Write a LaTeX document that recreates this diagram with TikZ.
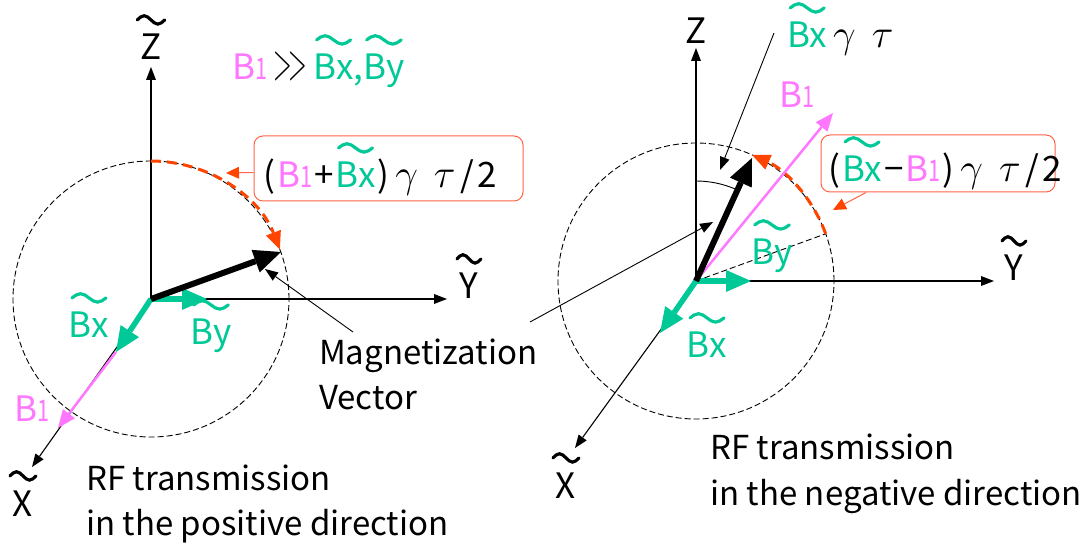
\RequirePackage{fix-cm}
\documentclass[tikz,border=0pt]{standalone}
\usepackage{fontspec}
\setmainfont{Noto Sans CJK JP}
\usepackage{graphicx}
\usetikzlibrary{arrows.meta}
\definecolor{pinkc}{RGB}{255,119,255}
\definecolor{greenc}{RGB}{0,200,150}
\definecolor{orangec}{RGB}{255,68,0}
\definecolor{boxc}{RGB}{255,100,70}
\newlength\tlw
\newlength\tlv
\newcommand\tld[2][0.85]{\settowidth\tlw{#2}\setlength\tlv{#1\tlw}\leavevmode\rlap{\hbox to\tlw{\hss\raisebox{0.98em}{\tikz[x=1pt,y=1pt,line width=0.09em,line cap=round,solid]\draw (0,0) sin (0.25\tlv,0.12em) cos (0.5\tlv,0) sin (0.75\tlv,-0.12em) cos (\tlv,0);}\hss}}#2}
\newcommand\one{\scalebox{0.62}[0.85]{1}}
\newcommand\gam{\scalebox{1.15}{$\gamma$}}
\newcommand\tu{\scalebox{1.15}{$\tau$}}
\newcommand\gtr{\scalebox{0.7}[1.5]{$>$}}
\newcommand\sk{\hspace{2pt}}
\begin{document}
\begin{tikzpicture}[x=1pt,y=1pt,
  font=\fontsize{33}{38}\selectfont,
  lbl/.style={anchor=base, inner sep=0pt, font=\fontsize{35}{40}\selectfont},
  lblw/.style={anchor=base west, inner sep=0pt, font=\fontsize{35}{40}\selectfont},
  txt/.style={anchor=base west, inner sep=0pt},
  axis/.style={line width=1.1pt, -{Triangle[length=13pt,width=10pt,line width=0pt]}},
  thinarrow/.style={line width=0.9pt, -{Triangle[length=13pt,width=10pt,line width=0pt]}},
  oarrow/.style={draw=boxc, line width=1pt, -{Triangle[length=13pt,width=12pt,line width=0pt,fill=orangec]}},
  magvec/.style={line width=6pt, -{Triangle[length=27pt,width=24pt,line width=0pt]}},
  gvec/.style={draw=greenc, line width=5.5pt, -{Triangle[length=25pt,width=22pt,line width=0pt,fill=greenc]}},
  pvec/.style={draw=pinkc, line width=2.5pt, -{Triangle[length=18pt,width=15pt,line width=0pt,fill=pinkc]}},
  circ/.style={line width=0.9pt, dash pattern=on 6pt off 3pt},
  orarc/.style={draw=orangec, line width=3pt, dash pattern=on 10pt off 6pt, -{Triangle[length=18pt,width=16pt,line width=0pt,fill=orangec]}},
  obox/.style={draw=boxc, line width=1pt, rounded corners=9pt, inner sep=0pt}
]
\useasboundingbox (0,0) rectangle (1088,-545);

% ===== Left diagram =====
\coordinate (oL) at (151,-299);
\coordinate (zLt) at (151,-67);
\coordinate (yLt) at (447,-299);
\coordinate (xLt) at (32,-467);
\coordinate (mL) at (281,-252);
\coordinate (bxL) at (116,-352);
\coordinate (byL) at (207,-299);
\coordinate (b1L) at (58,-428);

\draw[circ] (oL) circle[radius=138];
\draw[axis] (oL) -- (zLt);
\draw[axis] (oL) -- (yLt);
\draw[axis] (oL) -- (xLt);
\draw[orarc] ([shift={(90:138)}]oL) arc[start angle=90,end angle=21,radius=138];
\draw[pvec] (bxL) -- (b1L);
\draw[gvec] (oL) -- (bxL);
\draw[gvec] (oL) -- (byL);
\draw[magvec] (oL) -- (mL);

\node[lbl] (zL) at (151,-60) {\tld[1.3]{Z}};
\node[lbl] (yL) at (469,-299) {\tld[1.3]{Y}};
\node[lbl] (xL) at (23,-516) {\tld[1.3]{X}};
\node[lbl, text=greenc] (lbxL) at (89,-338) {\tld{Bx}};
\node[lbl, text=greenc] (lbyL) at (211,-345) {\tld{By}};
\node[lbl, text=pinkc] (lb1L) at (32,-422) {B\one};
\node[lblw] (cond) at (232,-80) {\textcolor{pinkc}{B\one}\hspace{6pt}\gtr\kern-3pt\gtr\hspace{6pt}\textcolor{greenc}{\tld{Bx},\tld{By}}};

\node[obox, minimum width=269pt, minimum height=65pt] (boxL) at (388.5,-168.5) {};
\node[lblw] (fL) at (263,-188) {(\sk\textcolor{pinkc}{B\one}\sk+\sk\textcolor{greenc}{\tld{Bx}}\sk)\hspace{6pt}\gam\hspace{16pt}\tu\hspace{5pt}/\hspace{3pt}2};
\coordinate (fLt) at (226,-173);
\draw[oarrow] ([yshift=-4pt]boxL.west) -- (fLt);

\node[txt] (mag1) at (319,-365) {Magnetization};
\node[txt] (mag2) at (319,-410) {Vector};
\coordinate (magA) at (353,-332);
\coordinate (magAt) at (265,-269);
\draw[thinarrow] (magA) -- (magAt);
\coordinate (magB) at (530,-322);
\coordinate (magBt) at (713,-222);
\draw[thinarrow] (magB) -- (magBt);

\node[txt] (rfL1) at (86,-490) {RF transmission};
\node[txt] (rfL2) at (86,-535) {in the positive direction};

% ===== Right diagram =====
\coordinate (oR) at (696,-281);
\coordinate (zRt) at (696,-48);
\coordinate (yRt) at (994,-281);
\coordinate (xRt) at (575,-448);
\coordinate (mR) at (752,-158);
\coordinate (b1R) at (833,-113);
\coordinate (bxR) at (660,-333);
\coordinate (byR) at (751,-281);
\coordinate (axR) at ([shift={(20:138)}]oR);

\draw[circ] (oR) circle[radius=138];
\draw[axis] (oR) -- (zRt);
\draw[axis] (oR) -- (yRt);
\draw[axis] (oR) -- (xRt);
\draw[circ] (oR) -- (axR);
\draw[orarc] (axR) arc[start angle=20,end angle=66,radius=138];
\draw[line width=0.9pt] ([shift={(90:100)}]oR) arc[start angle=90,end angle=67,radius=100];
\draw[pvec] (oR) -- (b1R);
\draw[gvec] (oR) -- (bxR);
\draw[gvec] (oR) -- (byR);
\draw[magvec] (oR) -- (mR);

\node[lbl] (zR) at (696,-44) {Z};
\node[lbl] (yR) at (1014,-281) {\tld[1.3]{Y}};
\node[lbl] (xR) at (566,-498) {\tld[1.3]{X}};
\node[lbl, text=greenc] (lbyR) at (772,-265) {\tld{By}};
\node[lbl, text=greenc] (lbxR) at (707,-358) {\tld{Bx}};
\node[lblw, text=pinkc] (lb1R) at (779,-108) {B\one};
\node[lblw] (gt) at (787,-48) {\textcolor{greenc}{\tld{Bx}}\hspace{6pt}\gam\hspace{16pt}\tu};
\coordinate (gtA) at (774,-33);
\coordinate (gtAt) at (720,-170);
\draw[thinarrow] (gtA) -- (gtAt);

\node[obox, minimum width=234pt, minimum height=57pt] (boxR) at (938,-163.5) {};
\node[lblw] (fR) at (828,-182) {(\sk\textcolor{greenc}{\tld{Bx}}\sk−\sk\textcolor{pinkc}{B\one}\sk)\hspace{6pt}\gam\hspace{16pt}\tu\hspace{5pt}/\hspace{3pt}2};
\coordinate (fRt) at (833,-210);
\draw[oarrow] ([xshift=-72pt]boxR.south) -- (fRt);

\node[txt] (rfR1) at (710,-460) {RF transmission};
\node[txt] (rfR2) at (710,-505) {in the negative direction};
\end{tikzpicture}
\end{document}
